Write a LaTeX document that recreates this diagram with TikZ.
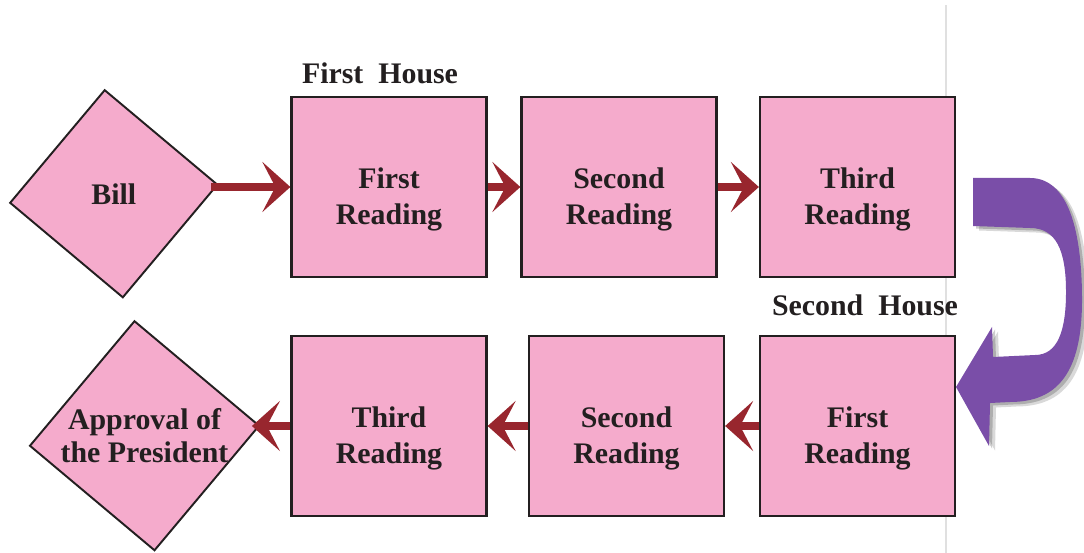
\documentclass[tikz,border=0pt]{standalone}
\usepackage{fontspec}
\setmainfont{Liberation Serif}
\usetikzlibrary{arrows.meta,positioning,shapes.geometric}
\definecolor{stagepink}{RGB}{245,171,204}
\definecolor{edgegray}{RGB}{35,31,32}
\definecolor{flowred}{RGB}{152,38,46}
\definecolor{turnpurple}{RGB}{122,78,168}
\newcommand{\lbl}{\bfseries\fontsize{17}{20.5}\selectfont}
\tikzset{
  stage/.style={rectangle,draw=edgegray,line width=1.3pt,fill=stagepink,
    minimum width=3.9cm,minimum height=3.6cm,align=center,text height=47pt,
    text=edgegray,font=\lbl},
  gate/.style={regular polygon,regular polygon sides=4,shape border rotate=50,
    draw=edgegray,line width=1.1pt,fill=stagepink,inner sep=0pt},
  flow/.style={flowred,line width=4pt,-{Stealth[length=5.6mm,width=10mm,inset=2.6mm]}},
  house/.style={text=edgegray,font=\lbl},
}

\begin{document}
\begin{tikzpicture}[x=0.02cm,y=-0.02cm]
  \useasboundingbox (0,0) rectangle (1084,553);
  \draw[black!12,line width=1.2pt] (946,5) -- (946,553);
  % first house
  \node[gate,minimum size=4.16cm] (bill) at (113.75,193.75) {};
  \node[house] at (bill.center) {Bill};
  \node[stage] (fa) at (389,187) {First\\Reading};
  \node[stage] (fb) at (619,187) {Second\\Reading};
  \node[stage] (fc) at (857.5,187) {Third\\Reading};
  \node[house] (fh) at (380,73) {First\ \ House};
  % second house
  \node[stage] (sa) at (857.5,426) {First\\Reading};
  \node[stage] (sb) at (626.5,426) {Second\\Reading};
  \node[stage] (sc) at (389,426) {Third\\Reading};
  \node[gate,minimum size=4.6cm,
    label={[house,align=center,font=\bfseries\fontsize{17}{19}\selectfont]center:Approval of\\the President}]
    (pres) at (144.5,435.75) {};
  \node[house] (sh) at (865,305) {Second\ \ House};
  % connectors
  \draw[flow] (bill.east |- fa.west) -- (fa.west);
  \draw[flow] (fa) -- (fb);
  \draw[flow] (fb) -- (fc);
  \draw[flow] (sa) -- (sb);
  \draw[flow] (sb) -- (sc);
  \draw[flow] (sc.west) -- (sc.west -| pres.east);
  % turn between the houses
  \fill[turnpurple,
    preaction={fill=black,opacity=0.15,transform canvas={xshift=1.2mm,yshift=-0.9mm}},
    preaction={fill=black,opacity=0.2,transform canvas={xshift=0.6mm,yshift=-0.5mm}}]
    (973,178) -- (1030,178) .. controls (1068,178) and (1082,230) .. (1082,300)
    .. controls (1082,372) and (1058,402) .. (1010,402) -- (990,403)
    -- (989,446) -- (956,387) -- (992,327) -- (993,357) -- (1035,355)
    .. controls (1058,355) and (1066,330) .. (1066,292)
    .. controls (1066,250) and (1056,228) .. (1030,228) -- (973,226) -- cycle;
\end{tikzpicture}
\end{document}
